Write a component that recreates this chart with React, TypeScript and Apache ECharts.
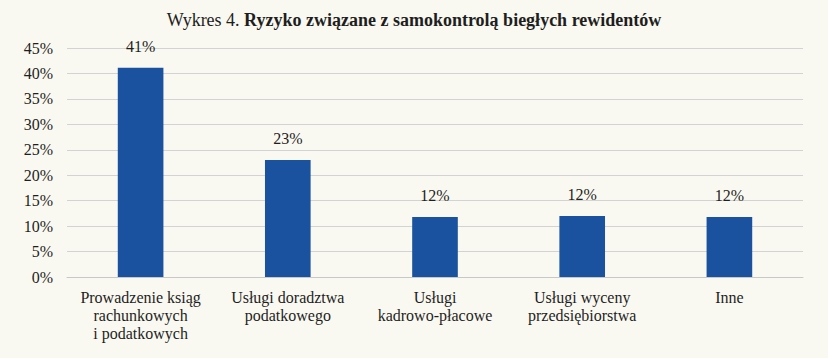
import React, { useEffect, useRef } from "react";
import * as echarts from "echarts";

const categories = [
  "Prowadzenie ksiąg\nrachunkowych\ni podatkowych",
  "Usługi doradztwa\npodatkowego",
  "Usługi\nkadrowo-płacowe",
  "Usługi wyceny\nprzedsiębiorstwa",
  "Inne",
];
const values = [41.1, 23.0, 11.8, 12.0, 11.8];
const valueLabels = ["41%", "23%", "12%", "12%", "12%"];

const FONT = "Times New Roman, Liberation Serif, serif";

export default function App() {
  const ref = useRef<HTMLDivElement>(null);
  useEffect(() => {
    if (!ref.current) return;
    const chart = echarts.init(ref.current, undefined, { renderer: "svg" });
    chart.setOption({
      animation: false,
      backgroundColor: "#faf9f1",
      textStyle: { fontFamily: FONT },
      title: {
        text: "{n|Wykres 4. }{b|Ryzyko związane z samokontrolą biegłych rewidentów}",
        left: "center",
        top: 6,
        textStyle: {
          fontFamily: FONT,
          rich: {
            n: { fontFamily: FONT, fontSize: 18, color: "#1e1e1e", fontWeight: "normal" },
            b: { fontFamily: FONT, fontSize: 18, color: "#1e1e1e", fontWeight: "bold" },
          },
        },
      },
      grid: { left: 67, right: 25, top: 48, bottom: 81, containLabel: false },
      xAxis: {
        type: "category",
        data: categories,
        axisTick: { show: false },
        axisLine: { lineStyle: { color: "#c8c8c8", width: 1 } },
        axisLabel: {
          color: "#1e1e1e",
          fontFamily: FONT,
          fontSize: 16,
          lineHeight: 18,
          margin: 11,
          interval: 0,
        },
      },
      yAxis: {
        type: "value",
        min: 0,
        max: 45,
        interval: 5,
        axisLine: { show: false },
        axisTick: { show: false },
        splitLine: { lineStyle: { color: "#d3d3d3", width: 1 } },
        axisLabel: {
          color: "#1e1e1e",
          fontFamily: FONT,
          fontSize: 16,
          margin: 14,
          formatter: (v: number) => `${v}%`,
        },
      },
      series: [
        {
          type: "bar",
          data: values,
          barWidth: "31%",
          itemStyle: { color: "#1a52a0" },
          label: {
            show: true,
            position: "top",
            distance: 13,
            color: "#1e1e1e",
            fontFamily: FONT,
            fontSize: 16,
            formatter: (p: any) => valueLabels[p.dataIndex],
          },
        },
      ],
    });
    return () => chart.dispose();
  }, []);
  return (
    <div
      ref={ref}
      style={{ position: "fixed", left: 0, top: 0, width: 828, height: 358 }}
    />
  );
}
